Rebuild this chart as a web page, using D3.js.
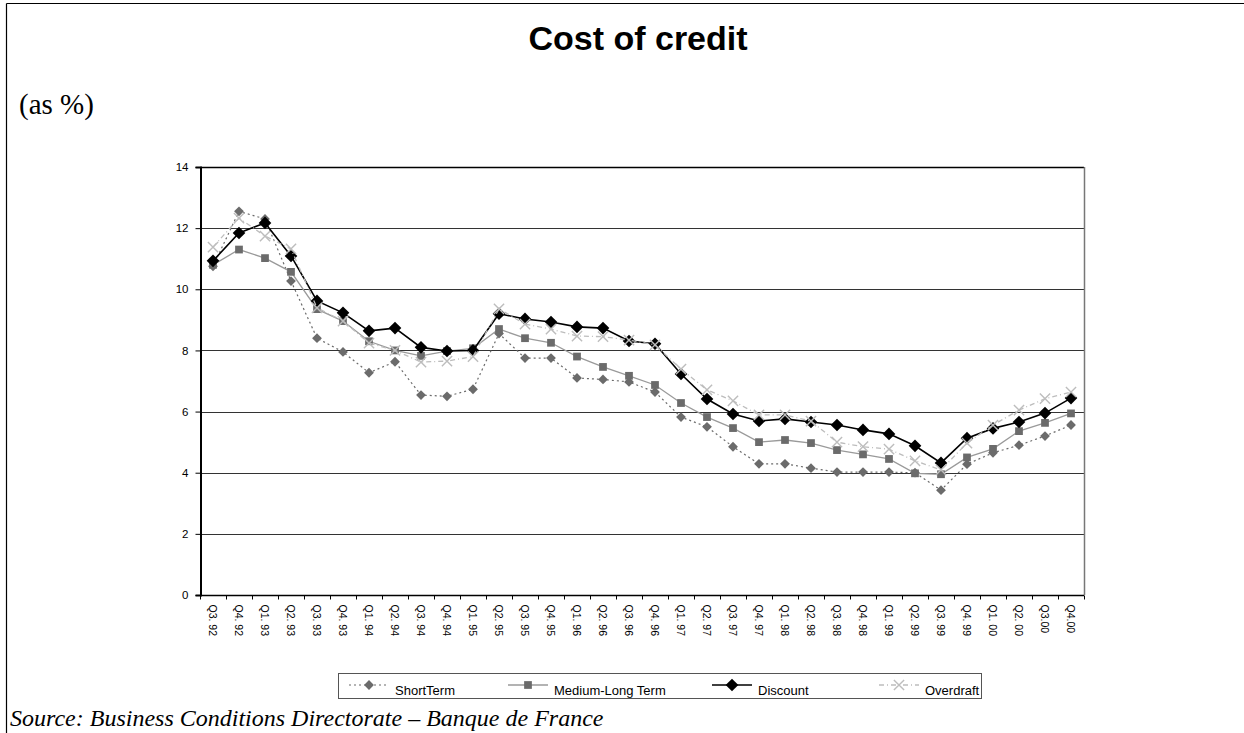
<!DOCTYPE html>
<html>
<head>
<meta charset="utf-8">
<script src="https://cdn.jsdelivr.net/npm/d3@7"></script>
<style>
  html, body { margin: 0; padding: 0; background: #fff; }
  svg { display: block; }
</style>
</head>
<body>
<svg id="chart" width="1244" height="733"></svg>
<script>
// Quarterly cost of credit, 1992 Q3 – 2000 Q4 (in %)
const quarters = ["Q3. 92","Q4. 92","Q1. 93","Q2. 93","Q3. 93","Q4. 93","Q1. 94","Q2. 94",
  "Q3. 94","Q4. 94","Q1. 95","Q2. 95","Q3. 95","Q4. 95","Q1. 96","Q2. 96","Q3. 96","Q4. 96",
  "Q1. 97","Q2. 97","Q3. 97","Q4. 97","Q1. 98","Q2. 98","Q3. 98","Q4. 98","Q1. 99","Q2. 99",
  "Q3. 99","Q4. 99","Q1. 00","Q2. 00","Q3.00","Q4.00"];

const shortTerm = [10.75, 12.55, 12.3, 10.27, 8.4, 7.95, 7.27, 7.63, 6.54, 6.5, 6.73, 8.55,
  7.75, 7.75, 7.1, 7.05, 6.97, 6.64, 5.82, 5.5, 4.85, 4.29, 4.29, 4.15, 4.02, 4.02, 4.02, 4.0,
  3.43, 4.28, 4.65, 4.9, 5.2, 5.56];

const mediumLong = [10.8, 11.3, 11.02, 10.57, 9.35, 8.96, 8.3, 8.0, 7.82, 7.98, 8.07, 8.7,
  8.4, 8.25, 7.8, 7.46, 7.17, 6.87, 6.28, 5.82, 5.46, 5.0, 5.07, 4.97, 4.74, 4.6, 4.45, 3.98,
  3.95, 4.5, 4.78, 5.36, 5.63, 5.94];

const discount = [10.93, 11.84, 12.17, 11.09, 9.62, 9.23, 8.64, 8.73, 8.1, 7.98, 8.0, 9.2,
  9.03, 8.93, 8.77, 8.73, 8.31, 8.22, 7.23, 6.41, 5.92, 5.69, 5.76, 5.66, 5.56, 5.4, 5.27, 4.88,
  4.32, 5.13, 5.45, 5.66, 5.95, 6.44];

const overdraft = [11.38, 12.33, 11.74, 11.32, 9.39, 8.96, 8.24, 8.0, 7.62, 7.65, 7.8, 9.36,
  8.86, 8.7, 8.47, 8.45, 8.34, 8.18, 7.39, 6.71, 6.35, 5.89, 5.89, 5.69, 5.0, 4.85, 4.77, 4.39,
  4.09, 4.97, 5.56, 6.05, 6.42, 6.64];

const yTicks = [0, 2, 4, 6, 8, 10, 12, 14];

const seriesNames = ["ShortTerm", "Medium-Long Term", "Discount", "Overdraft"];

// Visual style for each series
const styles = {
  "ShortTerm":        { values: shortTerm,  stroke: "#6b6b6b", width: 1.2, dash: "2,3",     marker: "diamond", fill: "#6b6b6b", size: 48 },
  "Medium-Long Term": { values: mediumLong, stroke: "#9a9a9a", width: 1.3, dash: null,      marker: "square",  fill: "#6b6b6b", size: 60 },
  "Discount":         { values: discount,   stroke: "#000000", width: 1.6, dash: null,      marker: "diamond", fill: "#000000", size: 80 },
  "Overdraft":        { values: overdraft,  stroke: "#bdbdbd", width: 1.3, dash: "5,3,1,3", marker: "cross",   fill: "none",    size: 70 }
};

const svg = d3.select("#chart");
const W = 1244, H = 733;
const plot = { left: 200, right: 1084, top: 167, bottom: 595 };

// Page frame (top and left rules)
svg.append("line").attr("x1", 6.5).attr("x2", W).attr("y1", 3.5).attr("y2", 3.5)
  .attr("stroke", "#000").attr("stroke-width", 1.2);
svg.append("line").attr("x1", 6.5).attr("x2", 6.5).attr("y1", 3.5).attr("y2", H)
  .attr("stroke", "#000").attr("stroke-width", 1.2);

// Title and unit
svg.append("text").attr("x", 638).attr("y", 50).attr("text-anchor", "middle")
  .style("font-family", "Arial, 'Liberation Sans', sans-serif").style("font-weight", "bold")
  .style("font-size", "34px").text("Cost of credit");
svg.append("text").attr("x", 19).attr("y", 114)
  .style("font-family", "'Times New Roman', 'Liberation Serif', serif")
  .style("font-size", "29px").text("(as %)");

// Scales
const x = d3.scaleBand().domain(quarters).range([plot.left, plot.right]).padding(0);
const y = d3.scaleLinear().domain([0, 14]).range([plot.bottom, plot.top]);
const cx = d => x(d) + x.bandwidth() / 2;

// Horizontal gridlines
svg.append("g").selectAll("line").data(yTicks.filter(t => t > 0)).join("line")
  .attr("x1", plot.left).attr("x2", plot.right)
  .attr("y1", d => Math.round(y(d)) + 0.5).attr("y2", d => Math.round(y(d)) + 0.5)
  .attr("stroke", d => d === 14 ? "#000" : "#333").attr("stroke-width", d => d === 14 ? 1.5 : 1);

// Right border of plot area
svg.append("line").attr("x1", plot.right + 0.5).attr("x2", plot.right + 0.5)
  .attr("y1", plot.top).attr("y2", plot.bottom)
  .attr("stroke", "#777").attr("stroke-width", 1.5);

// Y axis
const yAxis = svg.append("g").attr("transform", `translate(${plot.left + 0.5},0)`)
  .call(d3.axisLeft(y).tickValues(yTicks).tickSize(5).tickPadding(7).tickFormat(d3.format("d")));
yAxis.select(".domain").attr("stroke", "#000").attr("stroke-width", 2);
yAxis.selectAll(".tick line").attr("stroke", "#000");
yAxis.selectAll(".tick text").style("font-family", "Arial, 'Liberation Sans', sans-serif")
  .style("font-size", "11.5px").attr("fill", "#000");

// X axis: ticks at category boundaries, labels rotated
const xAxisG = svg.append("g").attr("transform", `translate(0,${plot.bottom + 0.5})`);
xAxisG.append("line").attr("x1", plot.left).attr("x2", plot.right)
  .attr("stroke", "#000").attr("stroke-width", 1.5);
xAxisG.selectAll("line.tk").data(d3.range(quarters.length + 1)).join("line")
  .attr("class", "tk")
  .attr("x1", i => plot.left + i * x.step() + 0.5).attr("x2", i => plot.left + i * x.step() + 0.5)
  .attr("y1", 0).attr("y2", 4).attr("stroke", "#000");
xAxisG.selectAll("text").data(quarters).join("text")
  .attr("transform", d => `translate(${cx(d) - 4},9) rotate(90)`)
  .attr("text-anchor", "start")
  .style("font-family", "Arial, 'Liberation Sans', sans-serif")
  .style("font-size", "10.5px").attr("fill", "#000")
  .text(d => d);

function drawMarker(g, kind, s, px, py) {
  if (kind === "diamond") {
    g.append("path").attr("d", d3.symbol(d3.symbolSquare, s.size)())
      .attr("transform", `translate(${px},${py}) rotate(45)`)
      .attr("fill", s.fill).attr("stroke", "none");
  } else if (kind === "square") {
    g.append("path").attr("d", d3.symbol(d3.symbolSquare, s.size)())
      .attr("transform", `translate(${px},${py})`)
      .attr("fill", s.fill).attr("stroke", "none");
  } else {
    g.append("path").attr("d", d3.symbol(d3.symbolX, s.size)())
      .attr("transform", `translate(${px},${py})`)
      .attr("fill", "none").attr("stroke", s.stroke).attr("stroke-width", 1.4);
  }
}

const line = d3.line().x((v, i) => cx(quarters[i])).y(v => y(v));

// Series lines and markers
seriesNames.forEach(name => {
  const s = styles[name];
  const g = svg.append("g");
  g.append("path").datum(s.values).attr("d", line)
    .attr("fill", "none").attr("stroke", s.stroke).attr("stroke-width", s.width)
    .attr("stroke-dasharray", s.dash);
  s.values.forEach((v, i) => drawMarker(g, s.marker, s, cx(quarters[i]), y(v)));
});

// Legend
const legend = svg.append("g");
legend.append("rect").attr("x", 338.5).attr("y", 673.5).attr("width", 643).attr("height", 25)
  .attr("fill", "#fff").attr("stroke", "#555").attr("stroke-width", 1);
const legendX = [349, 508, 712, 879];
seriesNames.forEach((name, k) => {
  const s = styles[name];
  const g = legend.append("g");
  const x0 = legendX[k], ly = 685;
  g.append("line").attr("x1", x0).attr("x2", x0 + 40).attr("y1", ly).attr("y2", ly)
    .attr("stroke", s.stroke).attr("stroke-width", s.width).attr("stroke-dasharray", s.dash);
  drawMarker(g, s.marker, s, x0 + 20, ly);
  g.append("text").attr("x", x0 + 46).attr("y", ly + 10)
    .style("font-family", "Arial, 'Liberation Sans', sans-serif").style("font-size", "13px")
    .attr("fill", "#000").text(name);
});

// Source note
svg.append("text").attr("x", 10).attr("y", 726)
  .style("font-family", "'Times New Roman', 'Liberation Serif', serif")
  .style("font-style", "italic").style("font-size", "24px")
  .text("Source: Business Conditions Directorate \u2013 Banque de France");
</script>
</body>
</html>
